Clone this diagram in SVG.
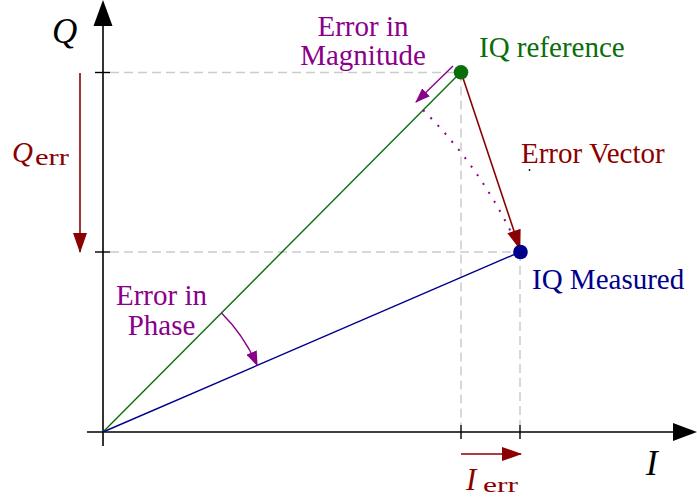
<svg xmlns="http://www.w3.org/2000/svg" width="697" height="504" viewBox="0 0 697 504">
<style>
  .axis{stroke:#000;stroke-width:1.6;fill:none}
  .tick{stroke:#000;stroke-width:1.4}
  .guide{stroke:#cccccc;stroke-width:1.5;stroke-dasharray:9 5;fill:none}
  .red{stroke:#8b0000;stroke-width:1.6;fill:none}
  .pur{stroke:#8b008b;stroke-width:1.4;fill:none}
  .txt{font-family:"Liberation Serif","Times New Roman",serif;font-size:29px}
  .math{font-family:"Liberation Serif","Times New Roman",serif;font-style:italic}
  .sub{font-family:"Liberation Serif","Times New Roman",serif}
</style>
<defs>
  <marker id="ahRed" markerUnits="userSpaceOnUse" markerWidth="20" markerHeight="14" refX="19" refY="7" orient="auto">
    <path d="M0,0 L20,7 L0,14 Z" fill="#8b0000"/>
  </marker>
  <marker id="ahPur" markerUnits="userSpaceOnUse" markerWidth="15" markerHeight="11" refX="14" refY="5.5" orient="auto">
    <path d="M0,0 L15,5.5 L0,11 Z" fill="#8b008b"/>
  </marker>
</defs>

<g id="guides">
  <line class="guide" x1="110" y1="72.5" x2="461" y2="72.5"/>
  <line class="guide" x1="461" y1="72.5" x2="461" y2="425"/>
  <line class="guide" x1="110" y1="252" x2="520" y2="252"/>
  <line class="guide" x1="520" y1="252" x2="520" y2="425"/>
</g>

<g id="axes">
  <line class="axis" x1="103" y1="446" x2="103" y2="25"/>
  <polygon points="103,0 93.5,26 112.5,26" fill="#000"/>
  <line class="axis" x1="87" y1="432" x2="674" y2="432"/>
  <polygon points="697,432 673,423 673,441" fill="#000"/>
  <line class="tick" x1="95" y1="72.5" x2="110" y2="72.5"/>
  <line class="tick" x1="95" y1="252" x2="110" y2="252"/>
  <line class="tick" x1="461" y1="425" x2="461" y2="439"/>
  <line class="tick" x1="520" y1="425" x2="520" y2="439"/>
  <text class="math" x="52" y="43" font-size="35">Q</text>
  <text class="math" x="646" y="475" font-size="35">I</text>
</g>

<g id="connectors">
  <line x1="103" y1="432" x2="461" y2="72" stroke="#0a6e0a" stroke-width="1.4"/>
  <line x1="103" y1="432" x2="520" y2="252" stroke="#00008b" stroke-width="1.4"/>
  <path d="M423.1,110.1 A454,454 0 0 1 518,247" stroke="#8b008b" stroke-width="2" fill="none" stroke-dasharray="2 8.5"/>
  <line class="red" x1="461" y1="72" x2="520" y2="249" marker-end="url(#ahRed)"/>
  <line class="pur" x1="453" y1="66" x2="416" y2="102" marker-end="url(#ahPur)"/>
  <path class="pur" d="M221.5,312.9 A168,168 0 0 1 257.2,365.4" marker-end="url(#ahPur)"/>
  <line class="red" x1="80" y1="73" x2="80" y2="252" marker-end="url(#ahRed)"/>
  <line class="red" x1="461" y1="454" x2="521" y2="454" marker-end="url(#ahRed)"/>
</g>

<g id="iq-reference">
  <circle cx="461" cy="72.3" r="7.3" fill="#0a6e0a"/>
  <text class="txt" x="479" y="57" fill="#0a6e0a">IQ reference</text>
</g>

<g id="iq-measured">
  <circle cx="520.5" cy="252" r="7.3" fill="#00008b"/>
  <text class="txt" x="532" y="289" fill="#00008b">IQ Measured</text>
</g>

<g id="error-vector-label">
  <text class="txt" x="521" y="163" fill="#8b0000">Error Vector</text>
  <circle cx="529.5" cy="170" r="0.9" fill="#000"/>
</g>

<g id="error-magnitude-label">
  <text class="txt" x="363" y="36" fill="#8b008b" text-anchor="middle">Error in</text>
  <text class="txt" x="363" y="65" fill="#8b008b" text-anchor="middle">Magnitude</text>
</g>

<g id="error-phase-label">
  <text class="txt" x="161.5" y="305" fill="#8b008b" text-anchor="middle">Error in</text>
  <text class="txt" x="161.5" y="335" fill="#8b008b" text-anchor="middle">Phase</text>
</g>

<g id="q-err-label">
  <text fill="#8b0000"><tspan class="math" x="12" y="162" font-size="29">Q</tspan><tspan class="sub" x="35" y="165" font-size="24" textLength="34" lengthAdjust="spacingAndGlyphs">err</tspan></text>
</g>

<g id="i-err-label">
  <text fill="#8b0000"><tspan class="math" x="466" y="490" font-size="31">I</tspan><tspan class="sub" x="483" y="492" font-size="22" textLength="35" lengthAdjust="spacingAndGlyphs">err</tspan></text>
</g>
</svg>
